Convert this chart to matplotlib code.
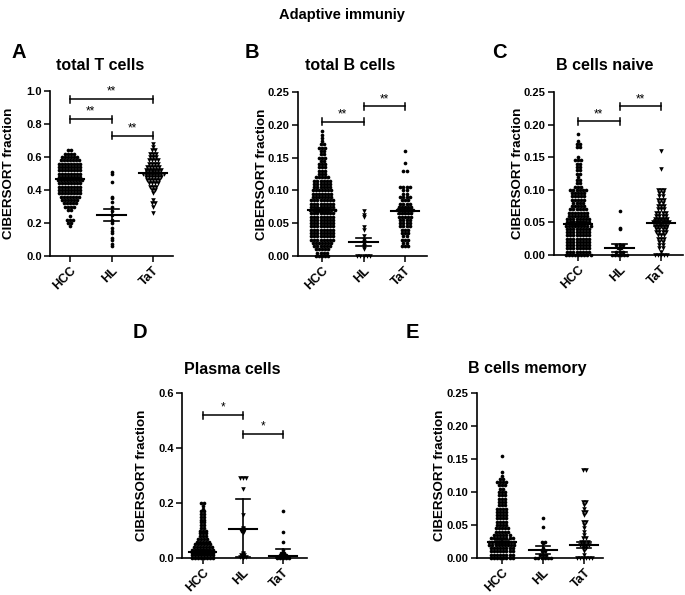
import numpy as np
import matplotlib
matplotlib.use("Agg")
import matplotlib.pyplot as plt

plt.rcParams['font.family'] = ['Liberation Sans', 'DejaVu Sans']
plt.rcParams['font.weight'] = 'bold'

groups = ["HCC", "HL", "TaT"]

# ---------------- Panel A : total T cells ----------------
A_HCC_val = [0.18,0.20,0.22,0.24,0.28,0.30,0.32,0.34,0.36,0.38,0.40,0.42,0.44,0.46,0.48,0.50,0.52,0.54,0.56,0.58,0.60,0.62,0.64]
A_HCC_cnt = [1,2,3,1,2,4,5,6,7,8,8,8,8,9,8,8,8,8,8,7,6,4,2]
A_HL_val = [0.51,0.50,0.45,0.36,0.35,0.33,0.30,0.27,0.25,0.22,0.21,0.20,0.17,0.15,0.14,0.11,0.10,0.07,0.06]
A_HL_cnt = [1]*19
A_TaT_val = [0.26,0.30,0.32,0.34,0.38,0.40,0.42,0.44,0.46,0.48,0.50,0.52,0.54,0.56,0.58,0.60,0.62,0.64,0.66,0.68]
A_TaT_cnt = [1,1,2,1,1,2,3,4,5,6,8,6,5,4,4,3,3,2,1,1]
A_center = [0.465, 0.250, 0.505]
A_low = [0.458, 0.215, 0.495]
A_high = [0.472, 0.285, 0.515]

# ---------------- Panel B : total B cells ----------------
B_HCC_val = [0.000,0.005,0.010,0.015,0.020,0.025,0.030,0.035,0.040,0.045,0.050,0.055,0.060,0.065,0.070,0.075,0.080,0.085,0.090,0.095,0.100,0.105,0.110,0.115,0.120,0.125,0.130,0.135,0.140,0.145,0.150,0.155,0.160,0.165,0.170,0.175,0.180,0.185,0.190]
B_HCC_cnt = [5,4,5,6,7,8,8,8,8,8,8,8,8,8,9,8,8,8,7,7,7,6,6,6,5,3,3,3,3,2,3,2,2,3,2,1,1,1,1]
B_HL_val = [0.068,0.062,0.060,0.044,0.040,0.030,0.025,0.022,0.020,0.018,0.015,0.013,0.010,0.000]
B_HL_cnt = [1,1,1,1,1,1,1,1,1,1,1,1,1,5]
B_TaT_val = [0.015,0.020,0.025,0.030,0.035,0.040,0.045,0.050,0.055,0.060,0.065,0.070,0.075,0.080,0.085,0.090,0.095,0.100,0.105,0.130,0.142,0.160]
B_TaT_cnt = [3,2,3,2,3,3,4,4,4,5,5,6,5,4,3,4,2,2,4,2,1,1]
B_center = [0.070, 0.022, 0.068]
B_low = [0.067, 0.016, 0.064]
B_high = [0.073, 0.028, 0.072]

# ---------------- Panel C : B cells naive ----------------
C_HCC_val = [0.000,0.005,0.010,0.015,0.020,0.025,0.030,0.035,0.040,0.045,0.050,0.055,0.060,0.065,0.070,0.075,0.080,0.085,0.090,0.095,0.100,0.105,0.110,0.115,0.120,0.125,0.130,0.135,0.140,0.145,0.150,0.165,0.170,0.175,0.185]
C_HCC_cnt = [9,8,8,8,8,8,8,8,8,9,8,8,7,7,6,5,4,5,5,5,6,3,2,2,1,2,2,2,2,3,1,2,2,1,1]
C_HL_val = [0.067,0.042,0.040,0.015,0.010,0.005,0.000]
C_HL_cnt = [1,1,1,3,2,3,6]
C_TaT_val = [0.000,0.005,0.010,0.015,0.020,0.025,0.030,0.035,0.040,0.045,0.050,0.055,0.060,0.065,0.070,0.075,0.080,0.085,0.090,0.095,0.100,0.132,0.160]
C_TaT_cnt = [5,1,2,2,2,3,3,4,4,5,6,5,4,4,3,3,2,3,2,2,3,1,1]
C_center = [0.047, 0.011, 0.049]
C_low = [0.044, 0.005, 0.045]
C_high = [0.050, 0.017, 0.053]

# ---------------- Panel D : Plasma cells ----------------
D_HCC_val = [0.00,0.01,0.02,0.03,0.04,0.05,0.06,0.07,0.08,0.09,0.10,0.11,0.12,0.13,0.14,0.15,0.16,0.17,0.18,0.19,0.20]
D_HCC_cnt = [8,8,8,8,7,6,5,4,3,3,3,2,2,2,2,2,2,2,1,1,2]
D_HL_val = [0.29,0.25,0.155,0.11,0.105,0.10,0.09,0.02,0.015,0.01,0.005,0.000]
D_HL_cnt = [3,1,1,1,1,2,1,1,1,2,3,1]
D_TaT_val = [0.17,0.093,0.058,0.030,0.020,0.015,0.010,0.005,0.000]
D_TaT_cnt = [1,1,1,1,2,1,3,4,5]
D_center = [0.022, 0.105, 0.007]
D_low = [0.015, 0.005, 0.000]
D_high = [0.030, 0.215, 0.034]

# ---------------- Panel E : B cells memory ----------------
E_HCC_val = [0.000,0.005,0.010,0.015,0.020,0.025,0.030,0.035,0.040,0.045,0.050,0.055,0.060,0.065,0.070,0.075,0.080,0.085,0.090,0.095,0.100,0.105,0.110,0.115,0.120,0.125,0.130,0.155]
E_HCC_cnt = [8,8,8,8,9,9,8,6,5,5,4,4,4,4,4,4,3,3,3,3,3,2,3,4,2,1,1,1]
E_HL_val = [0.060,0.047,0.025,0.022,0.015,0.010,0.005,0.000]
E_HL_cnt = [1,1,2,1,1,2,3,6]
E_TaT_val = [0.133,0.085,0.080,0.075,0.070,0.065,0.055,0.050,0.045,0.040,0.035,0.030,0.025,0.020,0.015,0.010,0.005,0.000]
E_TaT_cnt = [2,2,1,1,2,1,2,1,1,1,1,2,3,4,2,1,1,6]
E_center = [0.024, 0.012, 0.020]
E_low = [0.021, 0.006, 0.015]
E_high = [0.027, 0.018, 0.025]

fig = plt.figure(figsize=(6.85, 5.95), dpi=100)
W, H = 685.0, 595.0

def make_ax(left, right, top, bottom):
    return fig.add_axes([left / W, 1 - bottom / H, (right - left) / W, (bottom - top) / H])

def swarm(ax, xc, vals, cnts, marker, dx=0.075):
    xs, ys = [], []
    for v, n in zip(vals, cnts):
        for i in range(n):
            xs.append(xc + (i - (n - 1) / 2.0) * dx)
            ys.append(v)
    s = 7 if marker == 'o' else 11
    ax.scatter(xs, ys, s=s, marker=marker, color='black', linewidths=0, clip_on=False, zorder=3)

def summary(ax, centers, lows, highs):
    for i, (c, lo, hi) in enumerate(zip(centers, lows, highs)):
        ax.plot([i - 0.34, i + 0.34], [c, c], color='black', lw=1.5, zorder=4, clip_on=False)
        ax.plot([i, i], [lo, hi], color='black', lw=1.2, zorder=4, clip_on=False)
        for e in (lo, hi):
            ax.plot([i - 0.17, i + 0.17], [e, e], color='black', lw=1.2, zorder=4, clip_on=False)

def bracket(ax, x1, x2, y, text, ymax):
    h = ymax * 3.5 / 165.0
    kw = dict(color='black', lw=1.1, clip_on=False)
    ax.plot([x1, x2], [y, y], **kw)
    ax.plot([x1, x1], [y - h, y + h], **kw)
    ax.plot([x2, x2], [y - h, y + h], **kw)
    ax.text((x1 + x2) / 2, y + h * 0.4, text, ha='center', va='bottom', fontsize=8.5, fontweight='normal')

def style(ax, ymax, yticks, fmt, xlim, title, title_xy, label_x):
    ax.set_ylim(0, ymax)
    ax.set_xlim(*xlim)
    ax.set_yticks(yticks)
    ax.set_yticklabels([fmt.format(t) for t in yticks], fontsize=8, fontweight='bold')
    ax.set_xticks([0, 1, 2])
    ax.set_xticklabels(groups, rotation=45, ha='right', rotation_mode='anchor', fontsize=9, fontweight='bold')
    for sp in ('top', 'right'):
        ax.spines[sp].set_visible(False)
    for sp in ('left', 'bottom'):
        ax.spines[sp].set_linewidth(1.2)
    ax.tick_params(direction='out', length=4, width=1.1, pad=2)
    ax.set_ylabel("CIBERSORT fraction", fontsize=9.6, fontweight='bold')
    ax.yaxis.set_label_coords(label_x, 0.5)
    fig.text(title_xy[0] / W, 1 - title_xy[1] / H, title, fontsize=11.5, fontweight='bold',
             ha='center', va='center')

# Panel A
axA = make_ax(50, 173, 91, 256)
swarm(axA, 0, A_HCC_val, A_HCC_cnt, 'o', dx=0.072)
swarm(axA, 1, A_HL_val, A_HL_cnt, 'o')
swarm(axA, 2, A_TaT_val, A_TaT_cnt, 'v', dx=0.072)
summary(axA, A_center, A_low, A_high)
style(axA, 1.0, [0.0, 0.2, 0.4, 0.6, 0.8, 1.0], "{:.1f}", (-0.48, 2.48), "total T cells", (100, 66), -0.285)
bracket(axA, 0, 2, 0.95, "**", 1.0)
bracket(axA, 0, 1, 0.83, "**", 1.0)
bracket(axA, 1, 2, 0.73, "**", 1.0)

# Panel B
axB = make_ax(298, 427, 92, 256)
swarm(axB, 0, B_HCC_val, B_HCC_cnt, 'o')
swarm(axB, 1, B_HL_val, B_HL_cnt, 'v')
swarm(axB, 2, B_TaT_val, B_TaT_cnt, 'o')
summary(axB, B_center, B_low, B_high)
style(axB, 0.25, [0.0, 0.05, 0.10, 0.15, 0.20, 0.25], "{:.2f}", (-0.58, 2.53), "total B cells", (350, 66), -0.235)
bracket(axB, 0, 1, 0.205, "**", 0.25)
bracket(axB, 1, 2, 0.228, "**", 0.25)

# Panel C
axC = make_ax(554, 683, 92, 255)
swarm(axC, 0, C_HCC_val, C_HCC_cnt, 'o')
swarm(axC, 1, C_HL_val, C_HL_cnt, 'o')
swarm(axC, 2, C_TaT_val, C_TaT_cnt, 'v')
summary(axC, C_center, C_low, C_high)
style(axC, 0.25, [0.0, 0.05, 0.10, 0.15, 0.20, 0.25], "{:.2f}", (-0.58, 2.53), "B cells naive", (605, 66), -0.235)
bracket(axC, 0, 1, 0.205, "**", 0.25)
bracket(axC, 1, 2, 0.228, "**", 0.25)

# Panel D
axD = make_ax(182, 307, 393, 558)
swarm(axD, 0, D_HCC_val, D_HCC_cnt, 'o')
swarm(axD, 1, D_HL_val, D_HL_cnt, 'v')
swarm(axD, 2, D_TaT_val, D_TaT_cnt, 'o')
summary(axD, D_center, D_low, D_high)
style(axD, 0.6, [0.0, 0.2, 0.4, 0.6], "{:.1f}", (-0.52, 2.6), "Plasma cells", (232, 370), -0.272)
bracket(axD, 0, 1, 0.52, "*", 0.6)
bracket(axD, 1, 2, 0.45, "*", 0.6)

# Panel E
axE = make_ax(477, 603, 393, 558)
swarm(axE, 0, E_HCC_val, E_HCC_cnt, 'o')
swarm(axE, 1, E_HL_val, E_HL_cnt, 'o')
swarm(axE, 2, E_TaT_val, E_TaT_cnt, 'v')
summary(axE, E_center, E_low, E_high)
style(axE, 0.25, [0.0, 0.05, 0.10, 0.15, 0.20, 0.25], "{:.2f}", (-0.6, 2.45), "B cells memory", (527, 369), -0.245)

# Panel letters and main title
for letter, x, y in [("A", 11, 58), ("B", 245, 58), ("C", 492, 58), ("D", 133, 338), ("E", 406, 338)]:
    fig.text(x / W, 1 - y / H, letter, fontsize=14.5, fontweight='bold', va='baseline', ha='left')
fig.text(342 / W, 1 - 15 / H, "Adaptive immuniy", fontsize=10.5, fontweight='bold', ha='center', va='center')

fig.savefig("out.png", dpi=100)
